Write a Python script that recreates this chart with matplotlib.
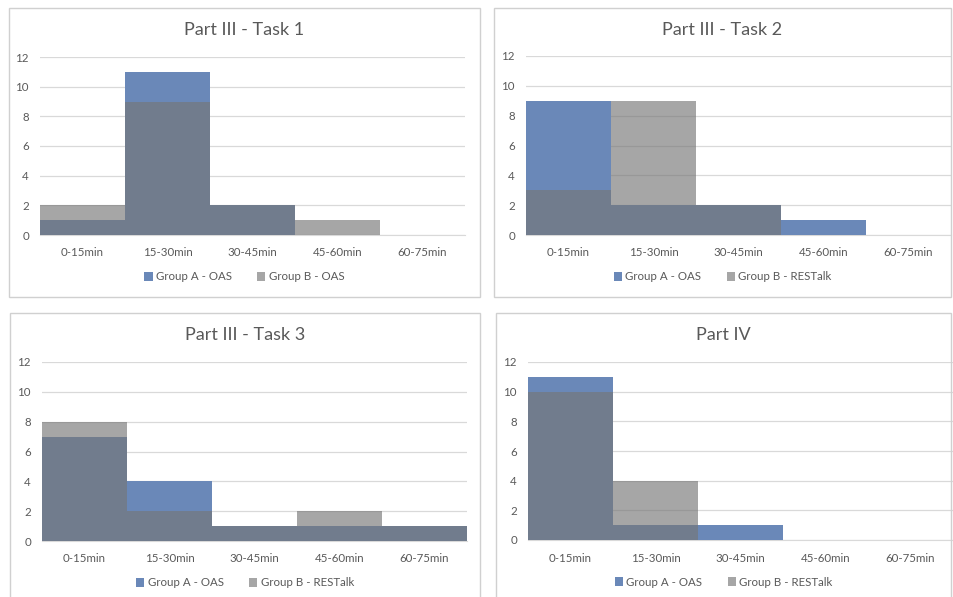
import matplotlib
matplotlib.use("Agg")
import matplotlib.pyplot as plt
from matplotlib.patches import Rectangle
import numpy as np

# Data
categories = ["0-15min", "15-30min", "30-45min", "45-60min", "60-75min"]
titles = ["Part III - Task 1", "Part III - Task 2", "Part III - Task 3", "Part IV"]
group_a_labels = ["Group A - OAS", "Group A - OAS", "Group A - OAS", "Group A - OAS"]
group_b_labels = ["Group B - OAS", "Group B - RESTalk", "Group B - RESTalk", "Group B - RESTalk"]

task1_a = [1, 11, 2, 0, 0]
task1_b = [2, 9, 2, 1, 0]
task2_a = [9, 2, 2, 1, 0]
task2_b = [3, 9, 2, 0, 0]
task3_a = [7, 4, 1, 1, 1]
task3_b = [8, 2, 1, 2, 1]
part4_a = [11, 1, 1, 0, 0]
part4_b = [10, 4, 0, 0, 0]

series_a = [task1_a, task2_a, task3_a, part4_a]
series_b = [task1_b, task2_b, task3_b, part4_b]

W, H = 954, 597
BLUE = "#6a88b8"
GRAY = "#767676"
TEXT = "#595959"

plt.rcParams["font.family"] = ["Lato", "DejaVu Sans"]

fig = plt.figure(figsize=(W / 100, H / 100), dpi=100)


def fx(px):
    return px / W


def fy(py):
    return 1 - py / H


# panel boxes (left, top, right, bottom) in pixels
boxes = [(9, 8, 480, 297), (494, 8, 951, 297), (10, 313, 480, 620), (496, 313, 951, 620)]
# plot areas (left, top, right, bottom) in pixels
areas = [(40, 57, 465, 235), (526, 56, 951, 235), (42, 362, 467, 541), (528, 362, 953, 540)]

for i in range(4):
    bl, bt, br, bb = boxes[i]
    fig.patches.append(Rectangle((fx(bl), fy(bb)), fx(br - bl), (bb - bt) / H,
                                 transform=fig.transFigure, fill=False,
                                 edgecolor="#d0d0d0", linewidth=1.0))

    l, t, r, b = areas[i]
    ax = fig.add_axes([fx(l), fy(b), fx(r - l), (b - t) / H])
    x = np.arange(len(categories))
    ax.bar(x, series_a[i], width=1.0, color=BLUE, label=group_a_labels[i], zorder=2)
    ax.bar(x, series_b[i], width=1.0, color=GRAY, alpha=0.65, label=group_b_labels[i], zorder=3)

    ax.set_xlim(-0.5, 4.5)
    ax.set_ylim(0, 12)
    ax.set_yticks(range(0, 13, 2))
    ax.set_xticks(x)
    ax.set_xticklabels(categories)
    ax.tick_params(axis="both", length=0, labelsize=8.3, colors=TEXT)
    ax.tick_params(axis="x", pad=9)
    ax.tick_params(axis="y", pad=8)
    ax.grid(axis="y", color="#d9d9d9", linewidth=0.9, zorder=0)
    ax.set_axisbelow(True)
    for s in ["top", "right", "left"]:
        ax.spines[s].set_visible(False)
    ax.spines["bottom"].set_color("#d9d9d9")
    ax.spines["bottom"].set_zorder(1)

    fig.text(fx((bl + br) / 2), fy(bt + 22), titles[i], ha="center", va="center",
             fontsize=13, color=TEXT)

    ax.legend(loc="center", bbox_to_anchor=(fx((bl + br) / 2), fy(b + 42)),
              bbox_transform=fig.transFigure, ncol=2, frameon=False, fontsize=8.3,
              handlelength=0.7, handleheight=0.7, handletextpad=0.3,
              columnspacing=2.2, labelcolor=TEXT)

fig.savefig("out.png", dpi=100)
